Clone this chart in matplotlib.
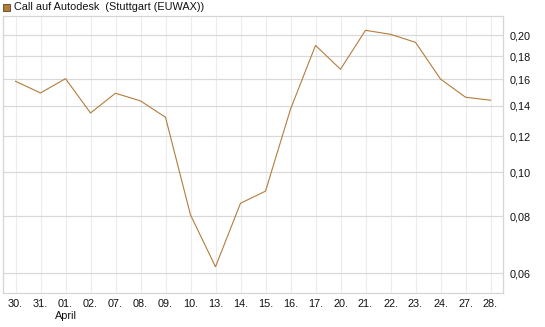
import matplotlib
matplotlib.use("Agg")
import matplotlib.pyplot as plt
from matplotlib.patches import Rectangle
from matplotlib.ticker import FixedLocator, FuncFormatter, NullLocator

plt.rcParams["font.family"] = ["Liberation Sans", "DejaVu Sans"]

day_labels = ["30.", "31.", "01.", "02.", "07.", "08.", "09.", "10.", "13.", "14.",
              "15.", "16.", "17.", "20.", "21.", "22.", "23.", "24.", "27.", "28."]
prices = [0.1585, 0.1494, 0.1606, 0.1350, 0.1492, 0.1435, 0.1321, 0.0806, 0.0620, 0.0855,
          0.0909, 0.1376, 0.1900, 0.1684, 0.2051, 0.2010, 0.1930, 0.1603, 0.1462, 0.1440]
y_ticks = [0.06, 0.08, 0.10, 0.12, 0.14, 0.16, 0.18, 0.20]
month_label = "April"
month_pos = 2
title = "Call auf Autodesk  (Stuttgart (EUWAX))"

line_color = "#B27D3C"

fig = plt.figure(figsize=(5.45, 3.27), dpi=100, facecolor="white")
ax = fig.add_axes([3 / 545, 34 / 327, 500 / 545, 277 / 327])

x = list(range(len(prices)))
ax.plot(x, prices, color=line_color, linewidth=0.8, zorder=3)

ax.set_yscale("log")
ax.set_ylim(0.0543, 0.2205)
ax.set_xlim(-0.5, len(prices) - 0.5)

ax.yaxis.set_major_locator(FixedLocator(y_ticks))
ax.yaxis.set_minor_locator(NullLocator())
ax.yaxis.set_major_formatter(FuncFormatter(lambda v, p: f"{v:.2f}".replace(".", ",")))
ax.yaxis.tick_right()
ax.set_xticks(x)
ax.set_xticklabels(day_labels)

ax.tick_params(axis="y", length=0, pad=5, labelsize=7.8, colors="#111111")
ax.tick_params(axis="x", length=0, pad=4, labelsize=7.8, colors="#111111")

ax.grid(axis="y", color="#d9d9d9", linewidth=0.9, zorder=0)
ax.grid(axis="x", color="#ececec", linewidth=0.8, zorder=0)
for s in ax.spines.values():
    s.set_color("#d6d6d6")
    s.set_linewidth(0.9)

ax.text(month_pos, -0.066, month_label, transform=ax.get_xaxis_transform(),
        ha="center", va="top", fontsize=7.8, color="#111111")

fig.patches.append(Rectangle((3 / 545, 1 - 11 / 327), 7 / 545, 7 / 327,
                             transform=fig.transFigure, facecolor=line_color,
                             edgecolor="#5a4020", linewidth=0.6))
fig.text(14 / 545, 1 - 7.5 / 327, title, ha="left", va="center",
         fontsize=7.8, color="#111111")

fig.savefig("out.png", dpi=100, facecolor="white")
